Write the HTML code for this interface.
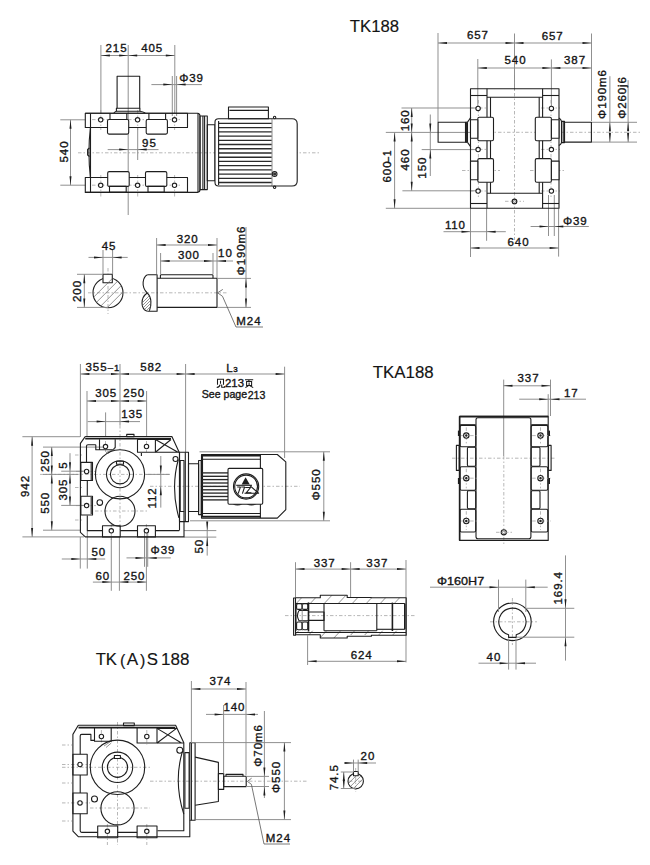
<!DOCTYPE html>
<html><head><meta charset="utf-8"><style>
html,body{margin:0;padding:0;background:#fff;}
svg{display:block;}
.k{fill:none;stroke:#1e1e1e;stroke-width:1.1;stroke-linejoin:round;}
.kf{fill:#fff;stroke:#1e1e1e;stroke-width:1.1;stroke-linejoin:round;}
.k3{fill:none;stroke:#2a2a2a;stroke-width:1.35;}
.k2{fill:none;stroke:#1e1e1e;stroke-width:1.6;}
.g{fill:none;stroke:#8a8a8a;stroke-width:0.95;}
.gd{fill:none;stroke:#555;stroke-width:0.8;}
.c{fill:none;stroke:#a4a4a4;stroke-width:0.8;stroke-dasharray:3.5 2 1.5 2;}
.tt{font-family:"Liberation Sans",sans-serif;fill:#141414;stroke:#141414;stroke-width:0.15;}
.t2{fill:none;stroke:#1a1a1a;stroke-width:1.05;}
.h{fill:none;stroke:#666;stroke-width:0.7;}
.a{fill:#1e1e1e;stroke:none;}
.t{font-family:"Liberation Sans",sans-serif;fill:#141414;stroke:#141414;stroke-width:0.35;}
</style></head><body>
<svg width="650" height="865" viewBox="0 0 650 865">
<line x1="78.0" y1="152.8" x2="320.0" y2="152.8" class="c"/>
<line x1="128.2" y1="76.0" x2="128.2" y2="215.0" class="g"/>
<line x1="100.8" y1="110.0" x2="100.8" y2="130.0" class="c"/>
<line x1="100.8" y1="175.0" x2="100.8" y2="197.0" class="c"/>
<line x1="137.7" y1="110.0" x2="137.7" y2="130.0" class="c"/>
<line x1="137.7" y1="175.0" x2="137.7" y2="197.0" class="c"/>
<line x1="174.6" y1="110.0" x2="174.6" y2="130.0" class="c"/>
<line x1="174.6" y1="175.0" x2="174.6" y2="197.0" class="c"/>
<line x1="92.0" y1="119.6" x2="182.0" y2="119.6" class="c"/>
<line x1="92.0" y1="185.2" x2="182.0" y2="185.2" class="c"/>
<line x1="100.9" y1="45.0" x2="100.9" y2="113.0" class="g"/>
<line x1="128.2" y1="45.0" x2="128.2" y2="76.0" class="g"/>
<line x1="174.8" y1="45.0" x2="174.8" y2="113.0" class="g"/>
<line x1="100.9" y1="55.5" x2="174.8" y2="55.5" class="g"/>
<path d="M100.9,55.5 L109.9,54.5 L109.9,56.5Z" class="a"/>
<path d="M128.2,55.5 L119.2,56.5 L119.2,54.5Z" class="a"/>
<path d="M128.2,55.5 L137.2,54.5 L137.2,56.5Z" class="a"/>
<path d="M174.8,55.5 L165.8,56.5 L165.8,54.5Z" class="a"/>
<text transform="translate(116.5,51.7) scale(1.0,1)" text-anchor="middle" font-size="11.5" letter-spacing="0.9" class="t">215</text>
<text transform="translate(152.1,51.7) scale(1.0,1)" text-anchor="middle" font-size="11.5" letter-spacing="0.9" class="t">405</text>
<line x1="172.3" y1="76.0" x2="172.3" y2="116.0" class="g"/>
<line x1="176.6" y1="76.0" x2="176.6" y2="116.0" class="g"/>
<line x1="151.4" y1="84.6" x2="201.8" y2="84.6" class="g"/>
<path d="M172.3,84.6 L163.3,85.6 L163.3,83.6Z" class="a"/>
<path d="M176.6,84.6 L185.6,83.6 L185.6,85.6Z" class="a"/>
<text transform="translate(179.2,82.2) scale(1.0,1)" text-anchor="start" font-size="11.5" letter-spacing="0.9" class="t">Φ39</text>
<line x1="60.3" y1="119.8" x2="85.3" y2="119.8" class="g"/>
<line x1="60.3" y1="185.2" x2="85.3" y2="185.2" class="g"/>
<line x1="70.5" y1="119.8" x2="70.5" y2="185.2" class="g"/>
<path d="M70.5,119.8 L71.5,128.8 L69.5,128.8Z" class="a"/>
<path d="M70.5,185.2 L69.5,176.2 L71.5,176.2Z" class="a"/>
<text transform="translate(67.9,151.5) rotate(-90) scale(1.0,1)" text-anchor="middle" font-size="11.5" letter-spacing="0.9" class="t">540</text>
<line x1="137.7" y1="128.0" x2="137.7" y2="160.0" class="g"/>
<line x1="107.7" y1="149.6" x2="158.5" y2="149.6" class="g"/>
<path d="M128.2,149.6 L119.2,150.6 L119.2,148.6Z" class="a"/>
<path d="M137.7,149.6 L146.7,148.6 L146.7,150.6Z" class="a"/>
<text transform="translate(149.4,147.3) scale(1.0,1)" text-anchor="middle" font-size="11.5" letter-spacing="0.9" class="t">95</text>
<path d="M117.1,108.2 L117.1,76.2 L139.7,76.2 L139.7,108.2" class="k"/>
<rect x="116.4" y="108.2" width="23.5" height="3.0" class="k"/>
<path d="M113.9,113 Q115,111.4 116.4,111.2 M139.9,111.2 Q143,111.5 145.2,113" class="k"/>
<path d="M85.3,113.3 L197.5,113.3 Q200,113.6 200,116 L200,189.6 Q200,192.2 197.5,192.4 L85.3,192.4" class="k"/>
<rect x="85.3" y="113.3" width="102.2" height="14.2" class="k"/>
<rect x="85.3" y="177.5" width="102.2" height="14.9" class="k"/>
<line x1="90.5" y1="113.3" x2="90.5" y2="192.4" class="k"/>
<line x1="198.0" y1="113.5" x2="198.0" y2="192.0" class="k"/>
<path d="M90.4,127.7 Q87.5,152 90.4,177.5" class="k"/>
<path d="M89.5,148 L87.6,149.5 L87.6,155 L89.5,156.5" class="k"/>
<rect x="107.5" y="119.5" width="21.2" height="14.6" class="kf" rx="1.5"/>
<rect x="146.2" y="119.5" width="21.2" height="14.6" class="kf" rx="1.5"/>
<line x1="110.0" y1="113.0" x2="110.0" y2="119.5" class="k"/>
<line x1="126.8" y1="113.0" x2="126.8" y2="119.5" class="k"/>
<line x1="148.9" y1="113.0" x2="148.9" y2="119.5" class="k"/>
<line x1="165.6" y1="113.0" x2="165.6" y2="119.5" class="k"/>
<rect x="107.7" y="171.6" width="21.5" height="14.8" class="kf" rx="1.5"/>
<rect x="145.5" y="171.6" width="21.3" height="14.8" class="kf" rx="1.5"/>
<rect x="109.5" y="186.4" width="16.7" height="6.0" class="k"/>
<rect x="148.0" y="186.4" width="16.2" height="6.0" class="k"/>
<circle cx="100.7" cy="119.8" r="2.2" class="kf"/>
<circle cx="100.7" cy="185.3" r="2.2" class="kf"/>
<circle cx="137.6" cy="119.8" r="2.2" class="kf"/>
<circle cx="137.6" cy="185.3" r="2.2" class="kf"/>
<circle cx="174.5" cy="119.8" r="2.2" class="kf"/>
<circle cx="174.5" cy="185.3" r="2.2" class="kf"/>
<rect x="200.0" y="116.0" width="7.3" height="73.6" class="k"/>
<line x1="202.9" y1="116.0" x2="202.9" y2="189.6" class="k"/>
<line x1="204.6" y1="116.0" x2="204.6" y2="189.6" class="k"/>
<rect x="207.3" y="124.8" width="7.7" height="56.0" class="k"/>
<path d="M215,122 Q215,118.8 218.5,118.8 L272.3,118.8 L272.3,186 L218.5,186 Q215,186 215,182.5 Z" class="kf"/>
<line x1="218.6" y1="123.4" x2="271.6" y2="123.4" class="k3"/>
<line x1="218.6" y1="127.6" x2="271.6" y2="127.6" class="k3"/>
<line x1="218.6" y1="131.9" x2="271.6" y2="131.9" class="k3"/>
<line x1="218.6" y1="136.1" x2="271.6" y2="136.1" class="k3"/>
<line x1="218.6" y1="140.3" x2="271.6" y2="140.3" class="k3"/>
<line x1="218.6" y1="144.5" x2="271.6" y2="144.5" class="k3"/>
<line x1="218.6" y1="148.7" x2="271.6" y2="148.7" class="k3"/>
<line x1="218.6" y1="153.0" x2="271.6" y2="153.0" class="k3"/>
<line x1="218.6" y1="157.2" x2="271.6" y2="157.2" class="k3"/>
<line x1="218.6" y1="161.4" x2="271.6" y2="161.4" class="k3"/>
<line x1="218.6" y1="165.6" x2="271.6" y2="165.6" class="k3"/>
<line x1="218.6" y1="169.8" x2="271.6" y2="169.8" class="k3"/>
<line x1="218.6" y1="174.1" x2="271.6" y2="174.1" class="k3"/>
<line x1="218.6" y1="178.3" x2="271.6" y2="178.3" class="k3"/>
<line x1="218.6" y1="182.5" x2="271.6" y2="182.5" class="k3"/>
<line x1="218.6" y1="121.0" x2="218.6" y2="185.0" class="k"/>
<line x1="229.4" y1="110.4" x2="268.2" y2="110.4" class="k"/>
<rect x="228.5" y="107.0" width="39.9" height="11.8" class="k"/>
<path d="M272.3,118.8 L292,118.8 Q297.2,118.8 297.2,124 L297.2,181 Q297.2,186 292,186 L272.3,186" class="kf"/>
<circle cx="274.6" cy="174.0" r="2.4" class="k"/>
<circle cx="274.6" cy="174" r="1.6" fill="#333"/>
<circle cx="274.6" cy="117.5" r="1.2" class="kf"/>
<circle cx="274.6" cy="187.3" r="1.2" class="kf"/>
<text x="349.8" y="32.0" textLength="49.2" lengthAdjust="spacingAndGlyphs" text-anchor="start" font-size="16.2" class="tt">TK188</text>
<line x1="471.0" y1="132.3" x2="640.0" y2="132.3" class="c"/>
<line x1="514.5" y1="75.0" x2="514.5" y2="240.0" class="c"/>
<line x1="470.0" y1="108.0" x2="488.0" y2="108.0" class="c"/>
<line x1="541.0" y1="108.0" x2="560.0" y2="108.0" class="c"/>
<line x1="470.0" y1="149.4" x2="488.0" y2="149.4" class="c"/>
<line x1="541.0" y1="149.4" x2="560.0" y2="149.4" class="c"/>
<line x1="470.0" y1="191.0" x2="488.0" y2="191.0" class="c"/>
<line x1="541.0" y1="191.0" x2="560.0" y2="191.0" class="c"/>
<line x1="505.0" y1="201.3" x2="524.0" y2="201.3" class="c"/>
<line x1="478.4" y1="100.0" x2="478.4" y2="198.0" class="c"/>
<line x1="551.0" y1="100.0" x2="551.0" y2="198.0" class="c"/>
<line x1="462.0" y1="170.5" x2="500.0" y2="170.5" class="c"/>
<line x1="530.0" y1="170.5" x2="566.0" y2="170.5" class="c"/>
<line x1="438.0" y1="33.0" x2="438.0" y2="122.0" class="g"/>
<line x1="514.5" y1="33.5" x2="514.5" y2="90.0" class="g"/>
<line x1="591.5" y1="33.5" x2="591.5" y2="121.0" class="g"/>
<line x1="438.0" y1="43.0" x2="591.5" y2="43.0" class="g"/>
<path d="M438.0,43.0 L447.0,42.0 L447.0,44.0Z" class="a"/>
<path d="M514.5,43.0 L505.5,44.0 L505.5,42.0Z" class="a"/>
<path d="M514.5,43.0 L523.5,42.0 L523.5,44.0Z" class="a"/>
<path d="M591.5,43.0 L582.5,44.0 L582.5,42.0Z" class="a"/>
<text transform="translate(477.9,38.9) scale(1.0,1)" text-anchor="middle" font-size="11.5" letter-spacing="0.9" class="t">657</text>
<text transform="translate(552.7,39.6) scale(1.0,1)" text-anchor="middle" font-size="11.5" letter-spacing="0.9" class="t">657</text>
<line x1="477.8" y1="59.0" x2="477.8" y2="106.0" class="g"/>
<line x1="551.4" y1="59.4" x2="551.4" y2="106.0" class="g"/>
<line x1="477.8" y1="68.0" x2="591.5" y2="68.0" class="g"/>
<path d="M477.8,68.0 L486.8,67.0 L486.8,69.0Z" class="a"/>
<path d="M551.4,68.0 L542.4,69.0 L542.4,67.0Z" class="a"/>
<path d="M551.4,68.0 L560.4,67.0 L560.4,69.0Z" class="a"/>
<path d="M591.5,68.0 L582.5,69.0 L582.5,67.0Z" class="a"/>
<text transform="translate(515.5,64.3) scale(1.0,1)" text-anchor="middle" font-size="11.5" letter-spacing="0.9" class="t">540</text>
<text transform="translate(575.0,64.3) scale(1.0,1)" text-anchor="middle" font-size="11.5" letter-spacing="0.9" class="t">387</text>
<line x1="591.5" y1="122.3" x2="637.0" y2="122.3" class="g"/>
<line x1="591.5" y1="142.1" x2="637.0" y2="142.1" class="g"/>
<line x1="609.9" y1="76.2" x2="609.9" y2="142.1" class="g"/>
<path d="M609.9,122.3 L610.9,131.3 L608.9,131.3Z" class="a"/>
<path d="M609.9,142.1 L608.9,133.1 L610.9,133.1Z" class="a"/>
<line x1="628.1" y1="80.2" x2="628.1" y2="142.1" class="g"/>
<path d="M628.1,122.0 L629.1,131.0 L627.1,131.0Z" class="a"/>
<path d="M628.1,142.1 L627.1,133.1 L629.1,133.1Z" class="a"/>
<text transform="translate(606.1,94.0) rotate(-90) scale(1.0,1)" text-anchor="middle" font-size="11.5" letter-spacing="0.9" class="t">Φ190m6</text>
<text transform="translate(626.0,97.5) rotate(-90) scale(1.0,1)" text-anchor="middle" font-size="11.5" letter-spacing="0.9" class="t">Φ260j6</text>
<line x1="401.5" y1="108.0" x2="478.0" y2="108.0" class="g"/>
<line x1="385.8" y1="132.4" x2="471.0" y2="132.4" class="g"/>
<line x1="421.7" y1="149.6" x2="478.0" y2="149.6" class="g"/>
<line x1="402.4" y1="190.8" x2="478.0" y2="190.8" class="g"/>
<line x1="385.8" y1="208.3" x2="470.5" y2="208.3" class="g"/>
<line x1="411.7" y1="108.0" x2="411.7" y2="190.8" class="g"/>
<path d="M411.7,108.0 L412.7,117.0 L410.7,117.0Z" class="a"/>
<path d="M411.7,132.5 L410.7,123.5 L412.7,123.5Z" class="a"/>
<path d="M411.7,132.5 L412.7,141.5 L410.7,141.5Z" class="a"/>
<path d="M411.7,190.8 L410.7,181.8 L412.7,181.8Z" class="a"/>
<line x1="394.6" y1="132.5" x2="394.6" y2="208.3" class="g"/>
<path d="M394.6,132.5 L395.6,141.5 L393.6,141.5Z" class="a"/>
<path d="M394.6,208.3 L393.6,199.3 L395.6,199.3Z" class="a"/>
<line x1="430.3" y1="114.5" x2="430.3" y2="176.0" class="g"/>
<path d="M430.3,132.5 L429.3,123.5 L431.3,123.5Z" class="a"/>
<path d="M430.3,149.6 L431.3,158.6 L429.3,158.6Z" class="a"/>
<text transform="translate(408.9,120.3) rotate(-90) scale(1.0,1)" text-anchor="middle" font-size="11.5" letter-spacing="0.9" class="t">160</text>
<text transform="translate(408.8,159.5) rotate(-90) scale(1.0,1)" text-anchor="middle" font-size="11.5" letter-spacing="0.9" class="t">460</text>
<text transform="translate(426.2,167.7) rotate(-90) scale(1.0,1)" text-anchor="middle" font-size="11.5" letter-spacing="0.9" class="t">150</text>
<text transform="translate(391.0,171.5) rotate(-90) scale(1.0,1)" text-anchor="middle" font-size="11.5" letter-spacing="0.9" class="t">600</text>
<text transform="translate(391.0,156.0) rotate(-90) scale(1.0,1)" text-anchor="middle" font-size="10" letter-spacing="0.9" class="t">–1</text>
<line x1="470.5" y1="208.5" x2="470.5" y2="257.0" class="g"/>
<line x1="486.6" y1="208.5" x2="486.6" y2="240.8" class="g"/>
<line x1="558.6" y1="208.5" x2="558.6" y2="256.6" class="g"/>
<line x1="443.5" y1="231.7" x2="505.8" y2="231.7" class="g"/>
<path d="M470.5,231.7 L461.5,232.7 L461.5,230.7Z" class="a"/>
<path d="M486.6,231.7 L495.6,230.7 L495.6,232.7Z" class="a"/>
<text transform="translate(455.4,228.5) scale(1.0,1)" text-anchor="middle" font-size="11.5" letter-spacing="0.9" class="t">110</text>
<line x1="470.5" y1="248.0" x2="558.6" y2="248.0" class="g"/>
<path d="M470.5,248.0 L479.5,247.0 L479.5,249.0Z" class="a"/>
<path d="M558.6,248.0 L549.6,249.0 L549.6,247.0Z" class="a"/>
<text transform="translate(518.5,245.8) scale(1.0,1)" text-anchor="middle" font-size="11.5" letter-spacing="0.9" class="t">640</text>
<line x1="548.5" y1="195.0" x2="548.5" y2="236.0" class="g"/>
<line x1="554.3" y1="195.0" x2="554.3" y2="236.0" class="g"/>
<line x1="530.6" y1="226.5" x2="588.8" y2="226.5" class="g"/>
<path d="M548.5,226.5 L539.5,227.5 L539.5,225.5Z" class="a"/>
<path d="M554.3,226.5 L563.3,225.5 L563.3,227.5Z" class="a"/>
<text transform="translate(563.0,225.4) scale(1.0,1)" text-anchor="start" font-size="11.5" letter-spacing="0.9" class="t">Φ39</text>
<rect x="470.5" y="88.7" width="88.5" height="119.5" class="k"/>
<line x1="470.5" y1="95.5" x2="487.0" y2="95.5" class="k"/>
<line x1="542.6" y1="95.5" x2="559.0" y2="95.5" class="k"/>
<line x1="487.0" y1="88.7" x2="487.0" y2="208.2" class="k"/>
<line x1="542.6" y1="88.7" x2="542.6" y2="208.2" class="k"/>
<line x1="487.0" y1="97.2" x2="542.6" y2="97.2" class="k"/>
<line x1="490.5" y1="97.2" x2="490.5" y2="193.3" class="k"/>
<line x1="539.2" y1="97.2" x2="539.2" y2="193.3" class="k"/>
<line x1="487.0" y1="193.3" x2="542.6" y2="193.3" class="k"/>
<line x1="470.5" y1="203.5" x2="487.0" y2="203.5" class="k"/>
<line x1="542.6" y1="203.5" x2="559.0" y2="203.5" class="k"/>
<circle cx="514.5" cy="201.4" r="2.3" class="kf"/>
<circle cx="514.5" cy="201.4" r="1.0" class="h"/>
<rect x="477.8" y="117.2" width="15.7" height="23.6" class="kf" rx="1.5"/>
<rect x="470.5" y="119.7" width="7.3" height="18.6" class="kf"/>
<rect x="535.3" y="117.2" width="16.1" height="23.6" class="kf" rx="1.5"/>
<rect x="551.4" y="119.7" width="7.6" height="18.6" class="kf"/>
<rect x="477.8" y="158.6" width="15.7" height="23.6" class="kf" rx="1.5"/>
<rect x="470.5" y="161.1" width="7.3" height="18.6" class="kf"/>
<rect x="535.3" y="158.6" width="16.1" height="23.6" class="kf" rx="1.5"/>
<rect x="551.4" y="161.1" width="7.6" height="18.6" class="kf"/>
<circle cx="478.1" cy="108.4" r="2.2" class="kf"/>
<circle cx="478.1" cy="149.6" r="2.2" class="kf"/>
<circle cx="478.1" cy="191.1" r="2.2" class="kf"/>
<circle cx="551.4" cy="108.4" r="2.2" class="kf"/>
<circle cx="551.4" cy="149.6" r="2.2" class="kf"/>
<circle cx="551.4" cy="191.1" r="2.2" class="kf"/>
<rect x="438.1" y="122.2" width="27.4" height="20.1" class="k"/>
<line x1="466.4" y1="122.2" x2="466.4" y2="142.3" class="k"/>
<line x1="465.5" y1="122.2" x2="467.5" y2="122.2" class="k"/>
<line x1="465.5" y1="142.3" x2="467.5" y2="142.3" class="k"/>
<path d="M467.5,122.2 L467.5,142.3 M467.5,122.2 Q469.5,119.5 470.8,117.3 M467.5,142.3 Q469.5,145 470.8,146.9" class="k"/>
<rect x="564.5" y="122.3" width="26.9" height="19.8" class="k"/>
<rect x="561.5" y="121.4" width="3.0" height="21.2" class="k"/>
<line x1="563.2" y1="121.4" x2="563.2" y2="142.6" class="k"/>
<path d="M558.8,118 Q561,119 561.5,121.4 M558.8,145.5 Q561,144.5 561.5,142.6" class="k"/>
<line x1="88.0" y1="292.8" x2="227.0" y2="292.8" class="c"/>
<line x1="108.0" y1="268.0" x2="108.0" y2="314.0" class="c"/>
<circle cx="108.0" cy="292.8" r="15.0" class="k"/>
<rect x="103.0" y="274.3" width="9.3" height="8.5" class="kf"/>
<clipPath id="cp1"><circle cx="108" cy="292.8" r="15"/></clipPath>
<g clip-path="url(#cp1)"><line x1="78.0" y1="312.8" x2="118.0" y2="272.8" class="h"/><line x1="86.0" y1="312.8" x2="126.0" y2="272.8" class="h"/><line x1="94.0" y1="312.8" x2="134.0" y2="272.8" class="h"/><line x1="102.0" y1="312.8" x2="142.0" y2="272.8" class="h"/></g>
<line x1="77.0" y1="274.3" x2="103.0" y2="274.3" class="g"/>
<line x1="77.0" y1="307.4" x2="108.0" y2="307.4" class="g"/>
<line x1="84.3" y1="274.3" x2="84.3" y2="307.4" class="g"/>
<path d="M84.3,274.3 L85.3,283.3 L83.3,283.3Z" class="a"/>
<path d="M84.3,307.4 L83.3,298.4 L85.3,298.4Z" class="a"/>
<text transform="translate(80.9,291.0) rotate(-90) scale(1.0,1)" text-anchor="middle" font-size="11.5" letter-spacing="0.9" class="t">200</text>
<line x1="103.0" y1="250.0" x2="103.0" y2="274.3" class="g"/>
<line x1="112.6" y1="250.0" x2="112.6" y2="274.3" class="g"/>
<line x1="88.5" y1="257.4" x2="127.7" y2="257.4" class="g"/>
<path d="M103.0,257.4 L94.0,258.4 L94.0,256.4Z" class="a"/>
<path d="M112.6,257.4 L121.6,256.4 L121.6,258.4Z" class="a"/>
<text transform="translate(109.0,250.0) scale(1.0,1)" text-anchor="middle" font-size="11.5" letter-spacing="0.9" class="t">45</text>
<path d="M147.4,274.7 L157.1,274.7 L157.1,311.3 L147.4,311.3" class="k"/>
<path d="M147.4,274.7 C143,277 140.5,286 147.2,293 C140,298 140.5,309 147.4,311.3" class="k"/>
<path d="M147.2,293 C152,297 151.5,306 149.4,310.9" class="k"/>
<clipPath id="cp2"><path d="M147.2,293 C140,298 140.5,309 147.4,311.3 L149.4,310.9 C151.5,306 152,297 147.2,293Z"/></clipPath>
<g clip-path="url(#cp2)"><line x1="130" y1="315" x2="160" y2="285" class="h"/><line x1="133" y1="315" x2="163" y2="285" class="h"/><line x1="136" y1="315" x2="166" y2="285" class="h"/><line x1="139" y1="315" x2="169" y2="285" class="h"/><line x1="142" y1="315" x2="172" y2="285" class="h"/><line x1="145" y1="315" x2="175" y2="285" class="h"/></g>
<path d="M157.1,278.3 L217,278.3 L217,307.4 L157.1,307.4" class="k"/>
<path d="M160.4,278.3 L160.4,275.6 Q160.4,274.7 161.4,274.7 L212,274.7 Q213,274.7 213,275.6 L213,278.3" class="k"/>
<line x1="156.6" y1="238.0" x2="156.6" y2="274.0" class="g"/>
<line x1="217.0" y1="238.0" x2="217.0" y2="278.0" class="g"/>
<line x1="156.6" y1="245.0" x2="217.0" y2="245.0" class="g"/>
<path d="M156.6,245.0 L165.6,244.0 L165.6,246.0Z" class="a"/>
<path d="M217.0,245.0 L208.0,246.0 L208.0,244.0Z" class="a"/>
<text transform="translate(187.6,242.6) scale(1.0,1)" text-anchor="middle" font-size="11.5" letter-spacing="0.9" class="t">320</text>
<line x1="160.6" y1="253.0" x2="160.6" y2="274.0" class="g"/>
<line x1="213.0" y1="253.0" x2="213.0" y2="274.0" class="g"/>
<line x1="160.6" y1="261.0" x2="233.0" y2="261.0" class="g"/>
<path d="M160.6,261.0 L169.6,260.0 L169.6,262.0Z" class="a"/>
<path d="M213.0,261.0 L204.0,262.0 L204.0,260.0Z" class="a"/>
<path d="M217.0,261.0 L226.0,260.0 L226.0,262.0Z" class="a"/>
<text transform="translate(188.9,258.6) scale(1.0,1)" text-anchor="middle" font-size="11.5" letter-spacing="0.9" class="t">300</text>
<text transform="translate(225.4,257.0) scale(1.0,1)" text-anchor="middle" font-size="11.5" letter-spacing="0.9" class="t">10</text>
<line x1="217.0" y1="278.4" x2="251.0" y2="278.4" class="g"/>
<line x1="217.0" y1="307.4" x2="251.0" y2="307.4" class="g"/>
<line x1="246.0" y1="227.0" x2="246.0" y2="307.4" class="g"/>
<path d="M246.0,278.4 L247.0,287.4 L245.0,287.4Z" class="a"/>
<path d="M246.0,307.4 L245.0,298.4 L247.0,298.4Z" class="a"/>
<text transform="translate(244.6,250.5) rotate(-90) scale(1.0,1)" text-anchor="middle" font-size="11.5" letter-spacing="0.9" class="t">Φ190m6</text>
<path d="M222.8,289.4 L217.6,292.8 L222.5,296.3 L236,327 L263,327" class="gd"/>
<text transform="translate(248.9,324.6) scale(1.0,1)" text-anchor="middle" font-size="11.5" letter-spacing="0.9" class="t">M24</text>
<line x1="40.0" y1="474.4" x2="170.0" y2="474.4" class="c"/>
<line x1="150.0" y1="486.3" x2="300.0" y2="486.3" class="c"/>
<line x1="120.0" y1="425.0" x2="120.0" y2="530.0" class="c"/>
<line x1="95.0" y1="511.0" x2="148.0" y2="511.0" class="c"/>
<line x1="105.5" y1="441.0" x2="105.5" y2="452.0" class="c"/>
<line x1="146.5" y1="441.0" x2="146.5" y2="452.0" class="c"/>
<line x1="76.0" y1="471.4" x2="96.0" y2="471.4" class="c"/>
<line x1="76.0" y1="505.6" x2="96.0" y2="505.6" class="c"/>
<line x1="111.3" y1="524.0" x2="111.3" y2="540.0" class="c"/>
<line x1="146.4" y1="524.0" x2="146.4" y2="540.0" class="c"/>
<line x1="75.0" y1="487.5" x2="82.0" y2="487.5" class="c"/>
<line x1="75.0" y1="520.0" x2="82.0" y2="520.0" class="c"/>
<line x1="75.0" y1="455.0" x2="82.0" y2="455.0" class="c"/>
<line x1="80.4" y1="364.0" x2="80.4" y2="437.0" class="g"/>
<line x1="120.0" y1="364.0" x2="120.0" y2="425.0" class="g"/>
<line x1="185.6" y1="364.0" x2="185.6" y2="452.0" class="g"/>
<line x1="284.6" y1="366.7" x2="284.6" y2="458.0" class="g"/>
<line x1="80.4" y1="374.0" x2="284.6" y2="374.0" class="g"/>
<path d="M80.4,374.0 L89.4,373.0 L89.4,375.0Z" class="a"/>
<path d="M120.0,374.0 L111.0,375.0 L111.0,373.0Z" class="a"/>
<path d="M120.0,374.0 L129.0,373.0 L129.0,375.0Z" class="a"/>
<path d="M185.6,374.0 L176.6,375.0 L176.6,373.0Z" class="a"/>
<path d="M185.6,374.0 L194.6,373.0 L194.6,375.0Z" class="a"/>
<path d="M284.6,374.0 L275.6,375.0 L275.6,373.0Z" class="a"/>
<text transform="translate(96.5,371.0) scale(1.0,1)" text-anchor="middle" font-size="11.5" letter-spacing="0.9" class="t">355</text>
<text transform="translate(114.0,371.0) scale(1.0,1)" text-anchor="middle" font-size="9.5" letter-spacing="0.9" class="t">–1</text>
<text transform="translate(151.1,371.0) scale(1.0,1)" text-anchor="middle" font-size="11.5" letter-spacing="0.9" class="t">582</text>
<text transform="translate(230.0,372.2) scale(1.0,1)" text-anchor="middle" font-size="11.5" letter-spacing="0.9" class="t">L</text>
<text transform="translate(235.9,372.2) scale(1.0,1)" text-anchor="middle" font-size="8" letter-spacing="0.9" class="t">3</text>
<text x="201.7" y="397.8" textLength="45.5" lengthAdjust="spacingAndGlyphs" text-anchor="start" font-size="11.2" class="t">See page</text>
<text x="247.7" y="399.3" textLength="17.7" lengthAdjust="spacingAndGlyphs" text-anchor="start" font-size="11.6" class="t">213</text>
<text x="225.0" y="387.4" textLength="19" lengthAdjust="spacingAndGlyphs" text-anchor="start" font-size="11.2" class="t">213</text>
<path d="M217.5,384.8 L217.5,379.2 L223.5,379.2 L223.5,384.8 M220.5,380.8 L220.5,383.7 M220.1,384.59999999999997 Q219.8,386.8 216.7,387.59999999999997 M221.7,384.59999999999997 L221.7,387.2 L224.7,387.2 L224.7,386.0" class="t2"/>
<path d="M245,379.8 L253.2,379.8 M249.2,379.8 L248.6,381.4 M246.6,381.4 L251.6,381.4 L251.6,385.5 L246.6,385.5 Z M249.1,382.4 L249.1,385.2 M248.2,385.8 L245.4,387.59999999999997 M250,385.8 L253.2,387.59999999999997" class="t2"/>
<line x1="87.0" y1="391.0" x2="87.0" y2="437.0" class="g"/>
<line x1="146.6" y1="391.0" x2="146.6" y2="437.0" class="g"/>
<line x1="87.0" y1="401.0" x2="146.6" y2="401.0" class="g"/>
<path d="M87.0,401.0 L96.0,400.0 L96.0,402.0Z" class="a"/>
<path d="M120.0,401.0 L111.0,402.0 L111.0,400.0Z" class="a"/>
<path d="M120.0,401.0 L129.0,400.0 L129.0,402.0Z" class="a"/>
<path d="M146.6,401.0 L137.6,402.0 L137.6,400.0Z" class="a"/>
<text transform="translate(106.2,397.0) scale(1.0,1)" text-anchor="middle" font-size="11.5" letter-spacing="0.9" class="t">305</text>
<text transform="translate(134.2,397.0) scale(1.0,1)" text-anchor="middle" font-size="11.5" letter-spacing="0.9" class="t">250</text>
<line x1="105.6" y1="412.4" x2="105.6" y2="437.0" class="g"/>
<line x1="87.6" y1="421.6" x2="140.0" y2="421.6" class="g"/>
<path d="M105.6,421.6 L96.6,422.6 L96.6,420.6Z" class="a"/>
<path d="M120.0,421.6 L129.0,420.6 L129.0,422.6Z" class="a"/>
<text transform="translate(132.1,418.0) scale(1.0,1)" text-anchor="middle" font-size="11.5" letter-spacing="0.9" class="t">135</text>
<line x1="22.4" y1="436.7" x2="80.0" y2="436.7" class="g"/>
<line x1="22.4" y1="536.9" x2="84.0" y2="536.9" class="g"/>
<line x1="32.1" y1="436.7" x2="32.1" y2="536.9" class="g"/>
<path d="M32.1,436.7 L33.1,445.7 L31.1,445.7Z" class="a"/>
<path d="M32.1,536.9 L31.1,527.9 L33.1,527.9Z" class="a"/>
<text transform="translate(29.2,486.0) rotate(-90) scale(1.0,1)" text-anchor="middle" font-size="11.5" letter-spacing="0.9" class="t">942</text>
<line x1="43.0" y1="447.1" x2="104.0" y2="447.1" class="g"/>
<line x1="43.0" y1="474.4" x2="60.0" y2="474.4" class="g"/>
<line x1="43.0" y1="530.2" x2="80.0" y2="530.2" class="g"/>
<line x1="51.8" y1="447.1" x2="51.8" y2="530.2" class="g"/>
<path d="M51.8,447.1 L52.8,456.1 L50.8,456.1Z" class="a"/>
<path d="M51.8,474.4 L50.8,465.4 L52.8,465.4Z" class="a"/>
<path d="M51.8,474.4 L52.8,483.4 L50.8,483.4Z" class="a"/>
<path d="M51.8,530.2 L50.8,521.2 L52.8,521.2Z" class="a"/>
<text transform="translate(48.7,461.1) rotate(-90) scale(1.0,1)" text-anchor="middle" font-size="11.5" letter-spacing="0.9" class="t">250</text>
<text transform="translate(48.7,502.9) rotate(-90) scale(1.0,1)" text-anchor="middle" font-size="11.5" letter-spacing="0.9" class="t">550</text>
<line x1="61.2" y1="471.2" x2="84.0" y2="471.2" class="g"/>
<line x1="61.2" y1="505.4" x2="84.0" y2="505.4" class="g"/>
<line x1="60.0" y1="474.4" x2="78.0" y2="474.4" class="g"/>
<line x1="70.0" y1="453.2" x2="70.0" y2="505.4" class="g"/>
<path d="M70.0,471.2 L69.0,462.2 L71.0,462.2Z" class="a"/>
<path d="M70.0,474.4 L71.0,483.4 L69.0,483.4Z" class="a"/>
<path d="M70.0,505.4 L69.0,496.4 L71.0,496.4Z" class="a"/>
<text transform="translate(66.9,465.0) rotate(-90) scale(1.0,1)" text-anchor="middle" font-size="11.5" letter-spacing="0.9" class="t">5</text>
<text transform="translate(66.9,489.6) rotate(-90) scale(1.0,1)" text-anchor="middle" font-size="11.5" letter-spacing="0.9" class="t">305</text>
<line x1="80.3" y1="537.0" x2="80.3" y2="568.6" class="g"/>
<line x1="87.3" y1="531.0" x2="87.3" y2="568.6" class="g"/>
<line x1="61.8" y1="559.0" x2="105.2" y2="559.0" class="g"/>
<path d="M80.3,559.0 L71.3,560.0 L71.3,558.0Z" class="a"/>
<path d="M87.3,559.0 L96.3,558.0 L96.3,560.0Z" class="a"/>
<text transform="translate(98.8,555.7) scale(1.0,1)" text-anchor="middle" font-size="11.5" letter-spacing="0.9" class="t">50</text>
<line x1="111.3" y1="537.0" x2="111.3" y2="590.8" class="g"/>
<line x1="119.4" y1="537.0" x2="119.4" y2="590.8" class="g"/>
<line x1="146.4" y1="537.0" x2="146.4" y2="590.8" class="g"/>
<line x1="92.9" y1="582.1" x2="146.8" y2="582.1" class="g"/>
<path d="M111.3,582.1 L102.3,583.1 L102.3,581.1Z" class="a"/>
<path d="M119.4,582.1 L128.4,581.1 L128.4,583.1Z" class="a"/>
<path d="M146.4,582.1 L137.4,583.1 L137.4,581.1Z" class="a"/>
<text transform="translate(102.7,579.7) scale(1.0,1)" text-anchor="middle" font-size="11.5" letter-spacing="0.9" class="t">60</text>
<text transform="translate(134.4,579.7) scale(1.0,1)" text-anchor="middle" font-size="11.5" letter-spacing="0.9" class="t">250</text>
<line x1="144.5" y1="531.0" x2="144.5" y2="566.8" class="g"/>
<line x1="147.7" y1="531.0" x2="147.7" y2="566.8" class="g"/>
<line x1="126.5" y1="557.9" x2="170.8" y2="557.9" class="g"/>
<path d="M144.5,557.9 L135.5,558.9 L135.5,556.9Z" class="a"/>
<path d="M147.7,557.9 L156.7,556.9 L156.7,558.9Z" class="a"/>
<text transform="translate(150.6,554.4) scale(1.0,1)" text-anchor="start" font-size="11.5" letter-spacing="0.9" class="t">Φ39</text>
<line x1="184.0" y1="530.6" x2="216.3" y2="530.6" class="g"/>
<line x1="184.0" y1="537.1" x2="216.3" y2="537.1" class="g"/>
<line x1="207.2" y1="521.0" x2="207.2" y2="555.6" class="g"/>
<path d="M207.2,530.6 L206.2,521.6 L208.2,521.6Z" class="a"/>
<path d="M207.2,537.1 L208.2,546.1 L206.2,546.1Z" class="a"/>
<text transform="translate(203.4,546.2) rotate(-90) scale(1.0,1)" text-anchor="middle" font-size="11.5" letter-spacing="0.9" class="t">50</text>
<line x1="160.8" y1="456.0" x2="160.8" y2="507.6" class="g"/>
<line x1="146.0" y1="474.4" x2="169.7" y2="474.4" class="g"/>
<path d="M160.8,474.4 L159.8,465.4 L161.8,465.4Z" class="a"/>
<path d="M160.8,486.3 L161.8,495.3 L159.8,495.3Z" class="a"/>
<text transform="translate(155.8,498.0) rotate(-90) scale(1.0,1)" text-anchor="middle" font-size="11.5" letter-spacing="0.9" class="t">112</text>
<line x1="199.5" y1="451.8" x2="330.0" y2="451.8" class="g"/>
<line x1="190.0" y1="520.8" x2="330.0" y2="520.8" class="g"/>
<line x1="323.8" y1="451.8" x2="323.8" y2="520.8" class="g"/>
<path d="M323.8,451.8 L324.8,460.8 L322.8,460.8Z" class="a"/>
<path d="M323.8,520.8 L322.8,511.8 L324.8,511.8Z" class="a"/>
<text transform="translate(319.8,484.5) rotate(-90) scale(1.0,1)" text-anchor="middle" font-size="11.5" letter-spacing="0.9" class="t">Φ550</text>
<path d="M85.2,436.6 L171.9,436.6 L179.5,452.9 L179.5,530.5 M184,511.5 L184,536.9 L85.3,536.9 L80.4,532.4 L80.4,443.4 L85.2,436.6" class="k"/>
<line x1="85.2" y1="438.8" x2="171.0" y2="438.8" class="k2"/>
<rect x="126.7" y="434.4" width="7.3" height="2.2" class="k"/>
<path d="M86.5,462.3 L86.5,446 Q86.5,444.8 88,444.8 L95.8,444.8" class="k"/>
<path d="M87.3,481 L87.3,495.8 M87.3,515.4 L87.3,530.6 L102.5,530.6 M120.2,530.6 L137.5,530.6 M155.4,530.6 L179.2,530.6" class="k"/>
<path d="M95.8,444.8 L95.8,449.8 L99.5,449.8 M99.5,439.2 L99.5,449.8 L113,449.8 L115.2,447.5 L115.2,439.2" class="k"/>
<line x1="113.0" y1="449.8" x2="106.0" y2="452.5" class="h"/>
<line x1="115.0" y1="448.5" x2="108.0" y2="453.5" class="h"/>
<rect x="137.5" y="439.5" width="17.9" height="12.8" class="k"/>
<path d="M155.4,439.5 L170,439.5 M155.4,452.3 L179.5,452.3 M155.4,439.5 L178,452.3 M155.4,452.3 L171,439.5" class="k"/>
<line x1="141.4" y1="452.9" x2="141.4" y2="456.0" class="k"/>
<circle cx="105.5" cy="446.6" r="2.2" class="kf"/>
<circle cx="146.5" cy="446.5" r="2.2" class="kf"/>
<rect x="80.9" y="462.4" width="11.6" height="18.1" class="k"/>
<rect x="80.9" y="496.3" width="11.6" height="18.7" class="k"/>
<line x1="91.2" y1="463.0" x2="91.2" y2="480.0" class="k"/>
<line x1="91.2" y1="497.0" x2="91.2" y2="514.0" class="k"/>
<circle cx="86.6" cy="471.5" r="2.2" class="kf"/>
<circle cx="86.6" cy="505.6" r="2.2" class="kf"/>
<rect x="102.5" y="525.7" width="17.7" height="11.3" class="k"/>
<rect x="137.5" y="525.7" width="17.9" height="11.3" class="k"/>
<circle cx="111.3" cy="530.8" r="2.2" class="kf"/>
<circle cx="146.4" cy="530.8" r="2.2" class="kf"/>
<circle cx="120.0" cy="474.3" r="24.6" class="k"/>
<circle cx="120.0" cy="474.3" r="13.5" class="k"/>
<circle cx="120.0" cy="474.3" r="9.6" class="k"/>
<rect x="116.5" y="461.2" width="7.0" height="3.0" class="k"/>
<circle cx="120.0" cy="511.2" r="15.0" class="k"/>
<circle cx="99.8" cy="502.6" r="2.8" class="kf"/>
<circle cx="175.5" cy="459.0" r="2.5" class="kf"/>
<path d="M178.3,459.5 Q170.5,488 178.9,517.8" class="k"/>
<rect x="179.5" y="452.3" width="9.0" height="69.3" class="k"/>
<line x1="185.3" y1="452.3" x2="185.3" y2="521.6" class="k"/>
<rect x="180.2" y="460.5" width="3.8" height="51.0" class="k"/>
<rect x="188.5" y="463.7" width="10.1" height="47.8" class="k"/>
<rect x="198.6" y="460.5" width="2.6" height="54.1" class="k"/>
<path d="M201.5,454.5 L277.3,454.5 L285.8,461.9 L285.8,509.6 L277.3,518.1 L201.5,518.1 Z" class="k"/>
<line x1="201.5" y1="455.8" x2="260.4" y2="455.8" class="k2"/>
<line x1="201.5" y1="459.2" x2="260.4" y2="459.2" class="k"/>
<line x1="201.5" y1="513.5" x2="260.4" y2="513.5" class="k"/>
<line x1="201.5" y1="516.6" x2="260.4" y2="516.6" class="k2"/>
<line x1="260.4" y1="454.5" x2="260.4" y2="518.1" class="k"/>
<line x1="202.5" y1="456.0" x2="202.5" y2="517.0" class="k"/>
<line x1="202.4" y1="472.9" x2="228.0" y2="472.9" class="k3"/>
<line x1="202.4" y1="476.3" x2="228.0" y2="476.3" class="k3"/>
<line x1="202.4" y1="479.6" x2="228.0" y2="479.6" class="k3"/>
<line x1="202.4" y1="483.0" x2="228.0" y2="483.0" class="k3"/>
<line x1="202.4" y1="486.4" x2="228.0" y2="486.4" class="k3"/>
<line x1="202.4" y1="489.8" x2="228.0" y2="489.8" class="k3"/>
<line x1="202.4" y1="493.1" x2="228.0" y2="493.1" class="k3"/>
<line x1="202.4" y1="496.5" x2="228.0" y2="496.5" class="k3"/>
<line x1="202.4" y1="499.9" x2="228.0" y2="499.9" class="k3"/>
<rect x="228.0" y="468.4" width="34.7" height="35.8" class="kf" rx="1.2"/>
<circle cx="246.1" cy="486.5" r="12.6" class="k"/>
<circle cx="246.1" cy="486.5" r="11.4" class="k"/>
<path d="M245.6,477.2 L249.8,484.6 L241.6,484.6 Z" class="a"/>
<line x1="236.2" y1="485.3" x2="252.0" y2="485.3" class="k"/>
<path d="M249.6,485.3 L258.6,493.2 L244.5,493.2" class="k"/>
<path d="M237.2,487 L240.4,487 L238.2,493.6 M241.2,487 L244.6,487 L242.4,493.6 M245.2,487.5 L250.6,487.5 L246.2,492.8 L251.4,492.8" class="k"/>
<path d="M232.5,504.2 Q237.5,507 242.5,504.2 Z M246.5,504.2 Q251.5,507 256.5,504.2 Z" class="a"/>
<text x="372.8" y="377.6" textLength="60.9" lengthAdjust="spacingAndGlyphs" text-anchor="start" font-size="16.2" class="tt">TKA188</text>
<line x1="503.8" y1="456.0" x2="503.8" y2="546.0" class="c"/>
<line x1="452.0" y1="458.2" x2="556.0" y2="458.2" class="c"/>
<line x1="503.7" y1="379.6" x2="503.7" y2="456.0" class="g"/>
<line x1="550.5" y1="379.6" x2="550.5" y2="416.0" class="g"/>
<line x1="548.2" y1="394.2" x2="548.2" y2="416.0" class="g"/>
<line x1="503.5" y1="385.8" x2="550.5" y2="385.8" class="g"/>
<path d="M503.5,385.8 L512.5,384.8 L512.5,386.8Z" class="a"/>
<path d="M550.5,385.8 L541.5,386.8 L541.5,384.8Z" class="a"/>
<text transform="translate(528.5,382.2) scale(1.0,1)" text-anchor="middle" font-size="11.5" letter-spacing="0.9" class="t">337</text>
<line x1="519.2" y1="399.2" x2="586.0" y2="399.2" class="g"/>
<path d="M548.2,399.2 L539.2,400.2 L539.2,398.2Z" class="a"/>
<path d="M550.5,399.2 L559.5,398.2 L559.5,400.2Z" class="a"/>
<text transform="translate(571.2,396.5) scale(1.0,1)" text-anchor="middle" font-size="11.5" letter-spacing="0.9" class="t">17</text>
<rect x="459.6" y="416.3" width="88.6" height="124.1" class="k"/>
<line x1="459.6" y1="416.6" x2="548.2" y2="416.6" class="k2"/>
<line x1="459.6" y1="416.3" x2="459.6" y2="540.4" class="k2"/>
<rect x="476.0" y="417.7" width="54.9" height="121.0" class="k" rx="2"/>
<line x1="460.1" y1="425.0" x2="475.7" y2="425.0" class="k2"/>
<rect x="460.1" y="425.4" width="15.6" height="21.4" class="k" rx="1.5"/>
<line x1="466.3" y1="427.4" x2="466.3" y2="444.8" class="c"/>
<line x1="461.1" y1="435.6" x2="478.7" y2="435.6" class="c"/>
<circle cx="466.3" cy="435.6" r="2.7" class="kf"/>
<circle cx="466.3" cy="435.6" r="0.7" class="k"/>
<rect x="460.1" y="466.7" width="15.6" height="23.6" class="k" rx="1.5"/>
<line x1="466.3" y1="468.7" x2="466.3" y2="488.3" class="c"/>
<line x1="461.1" y1="478.2" x2="478.7" y2="478.2" class="c"/>
<circle cx="466.3" cy="478.2" r="2.7" class="kf"/>
<circle cx="466.3" cy="478.2" r="0.7" class="k"/>
<rect x="460.1" y="509.2" width="15.6" height="22.8" class="k" rx="1.5"/>
<line x1="466.3" y1="511.2" x2="466.3" y2="530.0" class="c"/>
<line x1="461.1" y1="521.0" x2="478.7" y2="521.0" class="c"/>
<circle cx="466.3" cy="521.0" r="2.7" class="kf"/>
<circle cx="466.3" cy="521.0" r="0.7" class="k"/>
<rect x="467.4" y="447.2" width="8.3" height="19.1" class="k" rx="1.2"/>
<rect x="467.4" y="490.7" width="8.3" height="18.1" class="k" rx="1.2"/>
<line x1="531.2" y1="425.0" x2="547.8" y2="425.0" class="k2"/>
<rect x="531.2" y="425.4" width="16.6" height="21.4" class="k" rx="1.5"/>
<line x1="540.5" y1="427.4" x2="540.5" y2="444.8" class="c"/>
<line x1="532.2" y1="435.6" x2="550.8" y2="435.6" class="c"/>
<circle cx="540.5" cy="435.6" r="2.7" class="kf"/>
<circle cx="540.5" cy="435.6" r="0.7" class="k"/>
<rect x="531.2" y="466.7" width="16.6" height="23.6" class="k" rx="1.5"/>
<line x1="540.5" y1="468.7" x2="540.5" y2="488.3" class="c"/>
<line x1="532.2" y1="478.2" x2="550.8" y2="478.2" class="c"/>
<circle cx="540.5" cy="478.2" r="2.7" class="kf"/>
<circle cx="540.5" cy="478.2" r="0.7" class="k"/>
<rect x="531.2" y="509.2" width="16.6" height="22.8" class="k" rx="1.5"/>
<line x1="540.5" y1="511.2" x2="540.5" y2="530.0" class="c"/>
<line x1="532.2" y1="521.0" x2="550.8" y2="521.0" class="c"/>
<circle cx="540.5" cy="521.0" r="2.7" class="kf"/>
<circle cx="540.5" cy="521.0" r="0.7" class="k"/>
<rect x="531.2" y="447.2" width="8.8" height="19.1" class="k" rx="1.2"/>
<rect x="531.2" y="490.7" width="8.8" height="18.1" class="k" rx="1.2"/>
<rect x="456.4" y="445.4" width="2.8" height="25.0" class="k"/>
<rect x="548.5" y="445.4" width="2.6" height="25.0" class="k"/>
<rect x="457.9" y="430.6" width="1.6" height="5.4" class="a"/>
<rect x="457.9" y="478.0" width="1.6" height="6.0" class="a"/>
<rect x="548.4" y="430.6" width="1.6" height="5.4" class="a"/>
<rect x="548.4" y="478.0" width="1.6" height="6.0" class="a"/>
<circle cx="503.8" cy="532.3" r="2.6" class="kf"/>
<circle cx="503.8" cy="532.3" r="1.3" class="h"/>
<line x1="496.0" y1="532.3" x2="512.0" y2="532.3" class="c"/>
<line x1="295.5" y1="562.2" x2="295.5" y2="597.8" class="g"/>
<line x1="350.6" y1="562.2" x2="350.6" y2="597.8" class="g"/>
<line x1="406.0" y1="560.0" x2="406.0" y2="662.4" class="g"/>
<line x1="295.5" y1="569.1" x2="406.0" y2="569.1" class="g"/>
<path d="M295.5,569.1 L304.5,568.1 L304.5,570.1Z" class="a"/>
<path d="M350.6,569.1 L341.6,570.1 L341.6,568.1Z" class="a"/>
<path d="M350.6,569.1 L359.6,568.1 L359.6,570.1Z" class="a"/>
<path d="M406.0,569.1 L397.0,570.1 L397.0,568.1Z" class="a"/>
<text transform="translate(324.6,566.5) scale(1.0,1)" text-anchor="middle" font-size="11.5" letter-spacing="0.9" class="t">337</text>
<text transform="translate(377.3,566.5) scale(1.0,1)" text-anchor="middle" font-size="11.5" letter-spacing="0.9" class="t">337</text>
<line x1="285.0" y1="615.6" x2="415.0" y2="615.6" class="c"/>
<clipPath id="cp3"><path d="M296,597.8 L406,597.8 L406,603.5 L296,603.5Z M296,630.7 L406,630.7 L406,635 L296,635Z M320.3,595.2 L347.2,595.2 L347.2,598 L320.3,598Z M320.3,635 L347.2,635 L347.2,638 L320.3,638Z"/></clipPath>
<g clip-path="url(#cp3)"><line x1="262" y1="640" x2="307" y2="592" class="h"/><line x1="276" y1="640" x2="321" y2="592" class="h"/><line x1="290" y1="640" x2="335" y2="592" class="h"/><line x1="304" y1="640" x2="349" y2="592" class="h"/><line x1="318" y1="640" x2="363" y2="592" class="h"/><line x1="332" y1="640" x2="377" y2="592" class="h"/><line x1="346" y1="640" x2="391" y2="592" class="h"/><line x1="360" y1="640" x2="405" y2="592" class="h"/><line x1="374" y1="640" x2="419" y2="592" class="h"/><line x1="388" y1="640" x2="433" y2="592" class="h"/><line x1="402" y1="640" x2="447" y2="592" class="h"/></g>
<rect x="293.6" y="598.0" width="1.9" height="37.2" class="k"/>
<path d="M295.5,597.8 L320.3,597.8 L320.3,595.2 L347.2,595.2 L347.2,597.5 L371.4,597.5 L371.4,597.8 L406.2,597.8 L406.2,635.2 L371.4,635.2 L371.4,636.3 L347.2,636.3 L347.2,638 L320.3,638 L320.3,634.7 L295.5,634.7" class="k"/>
<line x1="295.5" y1="603.5" x2="404.8" y2="603.5" class="k"/>
<line x1="324.0" y1="630.7" x2="376.8" y2="630.7" class="k"/>
<line x1="376.8" y1="629.3" x2="404.8" y2="629.3" class="k"/>
<line x1="295.5" y1="632.5" x2="406.0" y2="632.5" class="k"/>
<line x1="376.8" y1="603.5" x2="376.8" y2="630.7" class="k"/>
<line x1="392.4" y1="602.6" x2="392.4" y2="631.0" class="k2"/>
<line x1="404.8" y1="603.5" x2="404.8" y2="629.3" class="k2"/>
<line x1="324.0" y1="603.5" x2="324.0" y2="630.7" class="k"/>
<line x1="308.5" y1="602.4" x2="308.5" y2="631.5" class="k2"/>
<rect x="308.5" y="612.0" width="15.5" height="8.4" class="k"/>
<line x1="296.0" y1="603.5" x2="296.0" y2="630.7" class="k"/>
<rect x="296.6" y="603.8" width="5.4" height="5.6" class="k" rx="1.5"/>
<rect x="296.6" y="622.0" width="5.4" height="7.8" class="k" rx="1.5"/>
<rect x="302.4" y="603.8" width="5.4" height="5.6" class="k" rx="1.5"/>
<rect x="302.4" y="622.0" width="5.4" height="7.8" class="k" rx="1.5"/>
<path d="M299,610.5 Q296,615.6 299,620.7 L308.5,620.7 M299,610.5 L308.5,610.5" class="k"/>
<line x1="302.2" y1="603.5" x2="302.2" y2="630.7" class="h"/>
<line x1="307.6" y1="635.0" x2="307.6" y2="665.0" class="g"/>
<line x1="307.6" y1="661.3" x2="406.0" y2="661.3" class="g"/>
<path d="M307.6,661.3 L316.6,660.3 L316.6,662.3Z" class="a"/>
<path d="M406.0,661.3 L397.0,662.3 L397.0,660.3Z" class="a"/>
<text transform="translate(361.6,659.0) scale(1.0,1)" text-anchor="middle" font-size="11.5" letter-spacing="0.9" class="t">624</text>
<line x1="490.0" y1="621.8" x2="537.0" y2="621.8" class="c"/>
<line x1="512.4" y1="598.0" x2="512.4" y2="645.0" class="c"/>
<circle cx="512.4" cy="621.8" r="18.8" class="k"/>
<path d="M508.6,634.8 A13.6,13.6 0 1 1 516.2,634.8 L516.2,637.4 L508.6,637.4 Z" class="k"/>
<line x1="498.5" y1="579.6" x2="498.5" y2="612.0" class="g"/>
<line x1="525.8" y1="579.6" x2="525.8" y2="612.0" class="g"/>
<line x1="430.0" y1="587.2" x2="547.7" y2="587.2" class="g"/>
<path d="M498.5,587.2 L489.5,588.2 L489.5,586.2Z" class="a"/>
<path d="M525.8,587.2 L534.8,586.2 L534.8,588.2Z" class="a"/>
<text x="437.0" y="585.0" textLength="47.2" lengthAdjust="spacingAndGlyphs" text-anchor="start" font-size="11.5" class="t">Φ160H7</text>
<line x1="527.0" y1="608.3" x2="574.3" y2="608.3" class="g"/>
<line x1="516.5" y1="637.2" x2="574.3" y2="637.2" class="g"/>
<line x1="565.5" y1="555.4" x2="565.5" y2="660.6" class="g"/>
<path d="M565.5,608.3 L564.5,599.3 L566.5,599.3Z" class="a"/>
<path d="M565.5,637.2 L566.5,646.2 L564.5,646.2Z" class="a"/>
<text transform="translate(561.7,587.8) rotate(-90) scale(1.0,1)" text-anchor="middle" font-size="11.5" letter-spacing="0.9" class="t">169.4</text>
<line x1="508.6" y1="638.5" x2="508.6" y2="669.6" class="g"/>
<line x1="516.0" y1="638.5" x2="516.0" y2="669.6" class="g"/>
<line x1="478.5" y1="663.2" x2="536.0" y2="663.2" class="g"/>
<path d="M508.6,663.2 L499.6,664.2 L499.6,662.2Z" class="a"/>
<path d="M516.0,663.2 L525.0,662.2 L525.0,664.2Z" class="a"/>
<text transform="translate(493.9,660.8) scale(1.0,1)" text-anchor="middle" font-size="11.5" letter-spacing="0.9" class="t">40</text>
<text x="95.7" y="665.0" textLength="21.3" lengthAdjust="spacingAndGlyphs" text-anchor="start" font-size="16" class="tt">TK</text>
<text x="119.9" y="666" font-size="16" class="tt">(</text>
<text x="126.7" y="665.0" textLength="11.4" lengthAdjust="spacingAndGlyphs" text-anchor="start" font-size="16" class="tt">A</text>
<text x="140.0" y="666" font-size="16" class="tt">)</text>
<text x="146.8" y="665.0" textLength="11.2" lengthAdjust="spacingAndGlyphs" text-anchor="start" font-size="16" class="tt">S</text>
<text x="161.1" y="665.0" textLength="28.4" lengthAdjust="spacingAndGlyphs" text-anchor="start" font-size="16" class="tt">188</text>
<line x1="62.0" y1="767.3" x2="150.0" y2="767.3" class="c"/>
<line x1="150.0" y1="781.2" x2="308.0" y2="781.2" class="c"/>
<line x1="117.5" y1="722.0" x2="117.5" y2="845.0" class="c"/>
<line x1="90.0" y1="808.0" x2="150.0" y2="808.0" class="c"/>
<line x1="101.4" y1="730.0" x2="101.4" y2="745.0" class="c"/>
<line x1="146.8" y1="730.0" x2="146.8" y2="745.0" class="c"/>
<line x1="107.4" y1="824.0" x2="107.4" y2="845.0" class="c"/>
<line x1="146.8" y1="824.0" x2="146.8" y2="845.0" class="c"/>
<line x1="62.0" y1="764.5" x2="90.0" y2="764.5" class="c"/>
<line x1="62.0" y1="802.9" x2="90.0" y2="802.9" class="c"/>
<line x1="62.0" y1="745.0" x2="72.0" y2="745.0" class="c"/>
<line x1="62.0" y1="783.0" x2="72.0" y2="783.0" class="c"/>
<line x1="62.0" y1="821.0" x2="72.0" y2="821.0" class="c"/>
<path d="M78.3,725.3 L175.6,725.3 L183.8,742.8 L183.8,830.8 L157.5,830.8 M189.8,820.3 L189.8,836.8 L78.5,836.8 L72.9,831.2 L72.9,734.4 L78.3,725.3" class="k"/>
<line x1="78.5" y1="727.6" x2="175.0" y2="727.6" class="k2"/>
<rect x="123.5" y="723.0" width="10.8" height="2.6" class="k"/>
<path d="M80.2,754.2 L80.2,735.9 Q80.2,734.4 81.7,734.4 L90.9,734.4 L90.9,740.4 L94.5,740.4" class="k"/>
<path d="M80.2,775 L80.2,793 M80.2,813.8 L80.2,830.8 Q80.2,832.4 81.7,832.4 L97.7,832.4 M117.7,832.4 L137.1,832.4" class="k"/>
<rect x="94.5" y="727.5" width="16.7" height="13.8" class="k"/>
<rect x="137.1" y="727.5" width="19.9" height="15.5" class="k"/>
<path d="M157,728.4 L177,728.4 M157,743 L183.8,743 M157,728.4 L181.5,743 M157,743 L176.5,728.4" class="k"/>
<line x1="111.3" y1="741.0" x2="104.0" y2="746.0" class="h"/>
<line x1="111.3" y1="743.0" x2="106.0" y2="747.5" class="h"/>
<circle cx="101.4" cy="736.5" r="2.2" class="kf"/>
<circle cx="146.8" cy="736.5" r="2.2" class="kf"/>
<rect x="72.9" y="754.2" width="14.3" height="20.8" class="k"/>
<rect x="72.9" y="793.0" width="14.3" height="20.8" class="k"/>
<circle cx="80.0" cy="764.5" r="2.2" class="kf"/>
<circle cx="80.0" cy="802.9" r="2.2" class="kf"/>
<rect x="97.7" y="826.0" width="20.0" height="11.8" class="k"/>
<rect x="137.1" y="826.0" width="19.9" height="11.8" class="k"/>
<circle cx="107.4" cy="831.3" r="2.2" class="kf"/>
<circle cx="146.8" cy="831.3" r="2.2" class="kf"/>
<circle cx="117.5" cy="767.3" r="27.2" class="k"/>
<circle cx="117.5" cy="767.3" r="15.2" class="k"/>
<circle cx="117.5" cy="767.3" r="10.1" class="k"/>
<rect x="114.4" y="755.5" width="6.0" height="3.0" class="kf"/>
<circle cx="117.5" cy="808.3" r="16.6" class="k"/>
<circle cx="94.5" cy="799.0" r="3.0" class="kf"/>
<circle cx="179.8" cy="750.3" r="3.0" class="kf"/>
<path d="M182.3,751.8 Q173.5,782 183.8,814.2" class="k"/>
<rect x="184.9" y="752.6" width="4.2" height="55.6" class="k"/>
<rect x="189.8" y="742.8" width="5.3" height="77.5" class="k"/>
<line x1="191.4" y1="742.8" x2="191.4" y2="820.3" class="k"/>
<path d="M195.1,757.1 L218.4,762.4 L218.4,801.5 L195.1,805.2" class="k"/>
<rect x="218.4" y="773.6" width="5.3" height="15.8" class="k"/>
<rect x="223.7" y="776.3" width="22.5" height="10.3" class="k"/>
<path d="M226,776.3 L226,774.4 L243,774.4 L243,776.3" class="k"/>
<line x1="191.4" y1="681.0" x2="191.4" y2="742.8" class="g"/>
<line x1="246.0" y1="682.0" x2="246.0" y2="775.0" class="g"/>
<line x1="191.4" y1="689.0" x2="246.0" y2="689.0" class="g"/>
<path d="M191.4,689.0 L200.4,688.0 L200.4,690.0Z" class="a"/>
<path d="M246.0,689.0 L237.0,690.0 L237.0,688.0Z" class="a"/>
<text transform="translate(220.4,685.0) scale(1.0,1)" text-anchor="middle" font-size="11.5" letter-spacing="0.9" class="t">374</text>
<line x1="223.6" y1="705.0" x2="223.6" y2="773.5" class="g"/>
<line x1="206.0" y1="714.4" x2="258.0" y2="714.4" class="g"/>
<path d="M223.6,714.4 L214.6,715.4 L214.6,713.4Z" class="a"/>
<path d="M246.0,714.4 L255.0,713.4 L255.0,715.4Z" class="a"/>
<text transform="translate(234.4,711.0) scale(1.0,1)" text-anchor="middle" font-size="11.5" letter-spacing="0.9" class="t">140</text>
<line x1="264.4" y1="711.0" x2="264.4" y2="798.0" class="g"/>
<line x1="246.0" y1="776.4" x2="269.0" y2="776.4" class="g"/>
<line x1="246.0" y1="786.5" x2="269.0" y2="786.5" class="g"/>
<path d="M264.4,776.4 L263.4,767.4 L265.4,767.4Z" class="a"/>
<path d="M264.4,786.5 L265.4,795.5 L263.4,795.5Z" class="a"/>
<text transform="translate(261.8,745.5) rotate(-90) scale(1.0,1)" text-anchor="middle" font-size="11.5" letter-spacing="0.9" class="t">Φ70m6</text>
<line x1="191.0" y1="742.6" x2="291.0" y2="742.6" class="g"/>
<line x1="196.0" y1="819.6" x2="291.0" y2="819.6" class="g"/>
<line x1="284.4" y1="742.6" x2="284.4" y2="819.6" class="g"/>
<path d="M284.4,742.6 L285.4,751.6 L283.4,751.6Z" class="a"/>
<path d="M284.4,819.6 L283.4,810.6 L285.4,810.6Z" class="a"/>
<text transform="translate(279.8,777.0) rotate(-90) scale(1.0,1)" text-anchor="middle" font-size="11.5" letter-spacing="0.9" class="t">Φ550</text>
<path d="M251.6,778.2 L247.4,781.4 L251.4,784.3 L264,844 L290,844" class="gd"/>
<text transform="translate(278.4,842.0) scale(1.0,1)" text-anchor="middle" font-size="11.5" letter-spacing="0.9" class="t">M24</text>
<line x1="349.0" y1="781.2" x2="363.0" y2="781.2" class="c"/>
<line x1="355.7" y1="768.0" x2="355.7" y2="792.0" class="c"/>
<circle cx="355.7" cy="781.2" r="7.7" class="k"/>
<clipPath id="cp4"><circle cx="355.7" cy="781.2" r="7.7"/></clipPath>
<g clip-path="url(#cp4)"><line x1="340.7" y1="791.2" x2="360.7" y2="771.2" class="h"/><line x1="345.7" y1="791.2" x2="365.7" y2="771.2" class="h"/><line x1="350.7" y1="791.2" x2="370.7" y2="771.2" class="h"/></g>
<rect x="353.5" y="771.5" width="4.7" height="4.3" class="kf"/>
<line x1="340.8" y1="772.0" x2="353.5" y2="772.0" class="g"/>
<line x1="340.8" y1="788.5" x2="356.0" y2="788.5" class="g"/>
<line x1="343.8" y1="772.0" x2="343.8" y2="788.5" class="g"/>
<path d="M343.8,772.0 L344.8,781.0 L342.8,781.0Z" class="a"/>
<path d="M343.8,788.5 L342.8,779.5 L344.8,779.5Z" class="a"/>
<text transform="translate(338.2,777.3) rotate(-90) scale(1.0,1)" text-anchor="middle" font-size="11.5" letter-spacing="0.9" class="t">74.5</text>
<line x1="353.5" y1="759.6" x2="353.5" y2="772.0" class="g"/>
<line x1="358.2" y1="759.6" x2="358.2" y2="772.0" class="g"/>
<line x1="346.0" y1="763.0" x2="376.0" y2="763.0" class="g"/>
<path d="M353.5,763.0 L344.5,764.0 L344.5,762.0Z" class="a"/>
<path d="M358.2,763.0 L367.2,762.0 L367.2,764.0Z" class="a"/>
<text transform="translate(367.9,760.0) scale(1.0,1)" text-anchor="middle" font-size="11.5" letter-spacing="0.9" class="t">20</text>
</svg>
</body></html>
